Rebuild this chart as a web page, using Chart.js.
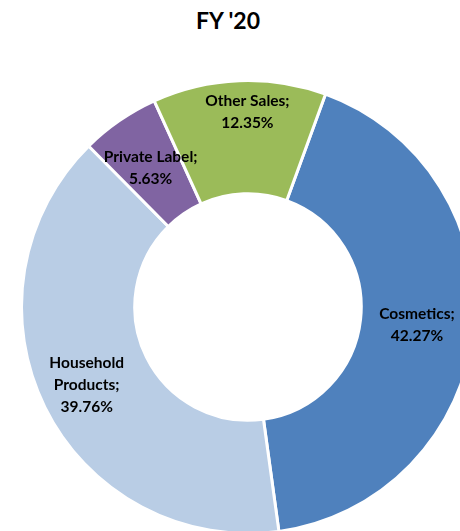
<!DOCTYPE html>
<html>
<head>
<meta charset="utf-8">
<script src="https://cdn.jsdelivr.net/npm/chart.js@4"></script>
<style>
  html, body { margin: 0; padding: 0; width: 460px; height: 531px; overflow: hidden; background: #fff; }
  #title { position: absolute; left: 0; top: 6px; width: 456px; text-align: center;
           font: bold 23px Lato, sans-serif; color: #000; }
  #wrap { position: absolute; left: 20px; top: 79px; width: 456px; height: 456px; }
</style>
</head>
<body>
<div id="title">FY '20</div>
<div id="wrap"><canvas id="fyChart"></canvas></div>
<script>
// FY '20 sales split
const categories = ['Cosmetics', 'Household Products', 'Private Label', 'Other Sales'];
const shares = [42.27, 39.76, 5.63, 12.35];
const colors = ['#4F81BD', '#B9CDE5', '#8064A2', '#9BBB59'];

// nudge a few labels the way Excel's best fit does
const labelNudge = [[0, 0], [-9, 3], [-1, 1], [6, -25]];

const sliceLabels = {
  id: 'sliceLabels',
  afterDatasetsDraw(chart) {
    const ctx = chart.ctx;
    const meta = chart.getDatasetMeta(0);
    ctx.save();
    ctx.font = 'bold 15.5px Lato, sans-serif';
    ctx.fillStyle = '#000';
    ctx.textAlign = 'center';
    ctx.textBaseline = 'middle';
    meta.data.forEach((arc, i) => {
      const p = arc.tooltipPosition();
      const name = categories[i];
      let lines = name.length > 15 ? name.split(' ') : [name];
      lines[lines.length - 1] += ';';
      lines.push(shares[i].toFixed(2) + '%');
      const lh = 22;
      const x = p.x + labelNudge[i][0];
      const y0 = p.y + labelNudge[i][1] - (lines.length - 1) * lh / 2;
      lines.forEach((t, k) => ctx.fillText(t, x, y0 + k * lh));
    });
    ctx.restore();
  }
};

const ctxFy = document.getElementById('fyChart').getContext('2d');
const fyChart = new Chart(ctxFy, {
  type: 'doughnut',
  data: {
    labels: categories,
    datasets: [{
      data: shares,
      backgroundColor: colors,
      borderColor: '#fff',
      borderWidth: 3
    }]
  },
  options: {
    responsive: true,
    maintainAspectRatio: false,
    animation: false,
    rotation: 20,
    cutout: '50%',
    layout: { padding: 0 },
    plugins: { legend: { display: false }, tooltip: { enabled: false } }
  },
  plugins: [sliceLabels]
});
</script>
</body>
</html>
